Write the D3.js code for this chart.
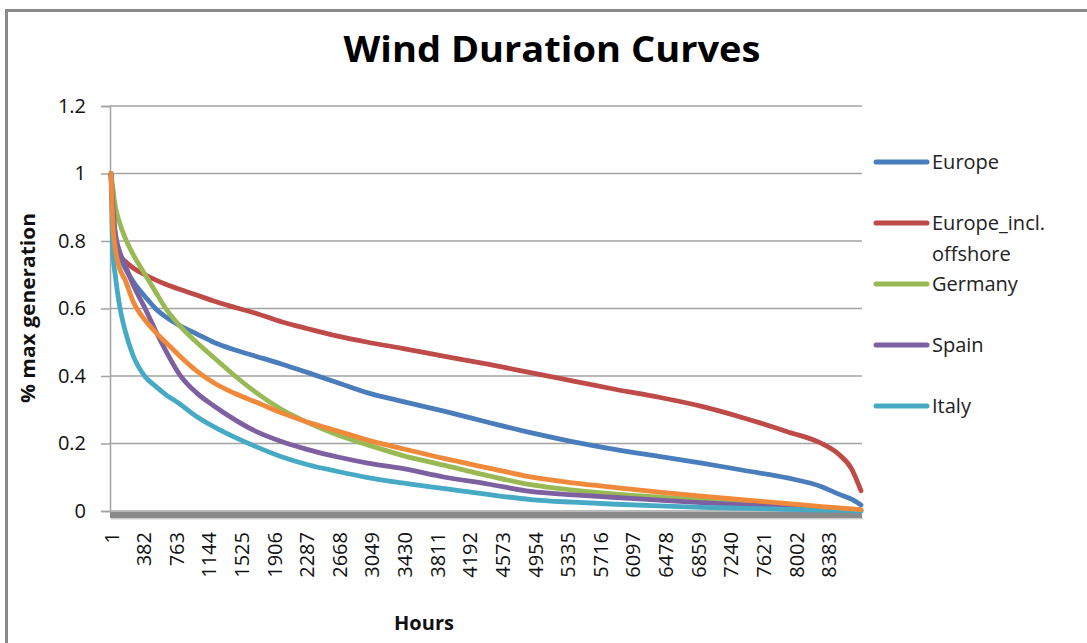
<!DOCTYPE html>
<html>
<head>
<meta charset="utf-8">
<script src="https://cdn.jsdelivr.net/npm/d3@7"></script>
<style>
  html, body { margin: 0; padding: 0; background: #fff; }
  svg { display: block; font-family: "Open Sans", "Noto Sans", sans-serif; }
</style>
</head>
<body>
<svg id="chart" width="1087" height="643"></svg>
<script>
// ---- data ----
const hours = [1, 25, 50, 100, 165, 260, 400, 520, 640, 800, 1000, 1200, 1450, 1700, 2000, 2300, 2650, 3000, 3400, 3900, 4400, 4900, 5400, 5900, 6400, 6900, 7400, 7900, 8300, 8500, 8650, 8760];

const europe        = [1.0, 0.88, 0.82, 0.76, 0.72, 0.68, 0.635, 0.60, 0.575, 0.55, 0.525, 0.50, 0.477, 0.458, 0.435, 0.41, 0.38, 0.35, 0.325, 0.295, 0.263, 0.232, 0.205, 0.182, 0.162, 0.142, 0.12, 0.098, 0.072, 0.05, 0.035, 0.018];
const europeOffshore= [1.0, 0.86, 0.80, 0.76, 0.74, 0.72, 0.70, 0.685, 0.672, 0.657, 0.64, 0.622, 0.603, 0.585, 0.56, 0.54, 0.518, 0.50, 0.482, 0.458, 0.435, 0.41, 0.385, 0.36, 0.337, 0.31, 0.275, 0.235, 0.20, 0.168, 0.125, 0.06];
const germany       = [1.0, 0.95, 0.905, 0.855, 0.81, 0.76, 0.70, 0.65, 0.60, 0.55, 0.50, 0.455, 0.40, 0.35, 0.30, 0.262, 0.225, 0.196, 0.165, 0.135, 0.105, 0.078, 0.062, 0.05, 0.041, 0.033, 0.025, 0.017, 0.01, 0.007, 0.004, 0.002];
const spain         = [1.0, 0.90, 0.825, 0.77, 0.73, 0.67, 0.60, 0.535, 0.475, 0.405, 0.35, 0.312, 0.27, 0.235, 0.205, 0.182, 0.16, 0.142, 0.126, 0.10, 0.08, 0.058, 0.048, 0.04, 0.032, 0.025, 0.018, 0.012, 0.007, 0.005, 0.003, 0.001];
const italy         = [1.0, 0.76, 0.70, 0.61, 0.535, 0.46, 0.398, 0.37, 0.345, 0.318, 0.28, 0.25, 0.218, 0.19, 0.16, 0.137, 0.117, 0.099, 0.083, 0.066, 0.049, 0.034, 0.026, 0.02, 0.015, 0.011, 0.008, 0.005, 0.003, 0.002, 0.001, 0.0];
const unlabelled    = [1.0, 0.84, 0.78, 0.72, 0.685, 0.62, 0.565, 0.53, 0.50, 0.46, 0.415, 0.38, 0.348, 0.322, 0.29, 0.263, 0.237, 0.21, 0.185, 0.155, 0.128, 0.101, 0.083, 0.069, 0.056, 0.044, 0.033, 0.022, 0.013, 0.009, 0.006, 0.004];

const seriesNames  = ["Europe", "Europe_incl. offshore", "Germany", "Spain", "Italy", ""];
const seriesValues = [europe, europeOffshore, germany, spain, italy, unlabelled];
const seriesColors = ["#4a7dbb", "#be4b48", "#98b954", "#7d60a0", "#46aac5", "#f08a3a"];

const xTickLabels = [1, 382, 763, 1144, 1525, 1906, 2287, 2668, 3049, 3430, 3811, 4192, 4573, 4954, 5335, 5716, 6097, 6478, 6859, 7240, 7621, 8002, 8383];
const yTicks = [0, 0.2, 0.4, 0.6, 0.8, 1.0, 1.2];

// ---- layout ----
const svg = d3.select("#chart");
const plot = { left: 110, right: 862, top: 106, bottom: 511 };

const x = d3.scaleLinear().domain([1, 8760]).range([111, 861]);
const y = d3.scaleLinear().domain([0, 1.2]).range([plot.bottom, plot.top]);

// outer chart border (only top and left visible in the frame)
svg.append("rect")
  .attr("x", 6.5).attr("y", 10.5)
  .attr("width", 1200).attr("height", 800)
  .attr("fill", "none").attr("stroke", "#8a8a8a").attr("stroke-width", 3);

// title
svg.append("text")
  .attr("x", 552).attr("y", 62)
  .attr("text-anchor", "middle")
  .attr("font-size", 36).attr("font-weight", "bold")
  .attr("fill", "#000")
  .attr("textLength", 417).attr("lengthAdjust", "spacingAndGlyphs")
  .text("Wind Duration Curves");

// gridlines
svg.append("g").selectAll("line").data(yTicks).join("line")
  .attr("x1", plot.left).attr("x2", plot.right)
  .attr("y1", d => y(d)).attr("y2", d => y(d))
  .attr("stroke", "#a3a3a3").attr("stroke-width", 1.5);

// y axis
const yAxis = d3.axisLeft(y).tickValues(yTicks).tickSize(9).tickPadding(15)
  .tickFormat(d => String(+d.toFixed(1)));
const gy = svg.append("g").attr("transform", `translate(${plot.left},0)`).call(yAxis);
gy.select(".domain").attr("stroke", "#a3a3a3").attr("stroke-width", 1.5);
gy.selectAll(".tick line").attr("stroke", "#a3a3a3").attr("stroke-width", 1.5);
gy.selectAll(".tick text").attr("font-size", 20).attr("fill", "#111")
  .attr("font-family", "'Open Sans', sans-serif");

// baseline band
svg.append("rect")
  .attr("x", plot.left).attr("y", plot.bottom + 1)
  .attr("width", plot.right - plot.left).attr("height", 6)
  .attr("fill", "#8a8a8a");
svg.append("rect")
  .attr("x", plot.left + 1).attr("y", plot.bottom + 7)
  .attr("width", plot.right - plot.left).attr("height", 1.5)
  .attr("fill", "#cfcfcf");

// series lines
const line = d3.line().x((d, i) => x(hours[i])).y(d => y(d)).curve(d3.curveMonotoneX);
svg.append("g").selectAll("path").data(seriesValues).join("path")
  .attr("d", d => line(d))
  .attr("fill", "none")
  .attr("stroke", (d, i) => seriesColors[i])
  .attr("stroke-width", 4.8)
  .attr("stroke-linejoin", "round")
  .attr("stroke-linecap", "round");

// x axis labels
const xAxis = d3.axisBottom(x).tickValues(xTickLabels).tickSize(0).tickFormat(d => String(d));
const gx = svg.append("g").attr("transform", `translate(0,${plot.bottom})`).call(xAxis);
gx.select(".domain").remove();
gx.selectAll(".tick text")
  .attr("font-size", 20).attr("fill", "#111")
  .attr("font-family", "'Open Sans', sans-serif")
  .attr("transform", "rotate(-90)")
  .attr("x", -21).attr("y", 0).attr("dy", "0.35em")
  .attr("text-anchor", "end");

// axis titles
svg.append("text")
  .attr("x", 424).attr("y", 630)
  .attr("text-anchor", "middle")
  .attr("font-size", 20).attr("font-weight", "bold").attr("fill", "#111")
  .text("Hours");

svg.append("text")
  .attr("transform", "translate(35,308) rotate(-90)")
  .attr("text-anchor", "middle")
  .attr("font-size", 20).attr("font-weight", "bold").attr("fill", "#111")
  .attr("textLength", 190).attr("lengthAdjust", "spacingAndGlyphs")
  .text("% max generation");

// legend
const legendRows = [
  { i: 0, y: 162, lines: ["Europe"] },
  { i: 1, y: 223, lines: ["Europe_incl.", "offshore"] },
  { i: 2, y: 284, lines: ["Germany"] },
  { i: 3, y: 345, lines: ["Spain"] },
  { i: 4, y: 406, lines: ["Italy"] }
];
const lg = svg.append("g");
legendRows.forEach(r => {
  lg.append("line")
    .attr("x1", 876).attr("x2", 927)
    .attr("y1", r.y).attr("y2", r.y)
    .attr("stroke", seriesColors[r.i]).attr("stroke-width", 5)
    .attr("stroke-linecap", "round");
  const t = lg.append("text")
    .attr("x", 932).attr("y", r.y)
    .attr("font-size", 20).attr("fill", "#222");
  r.lines.forEach((s, k) => {
    t.append("tspan").attr("x", 932).attr("dy", k === 0 ? "0.35em" : "1.55em").text(s);
  });
});
</script>
</body>
</html>
